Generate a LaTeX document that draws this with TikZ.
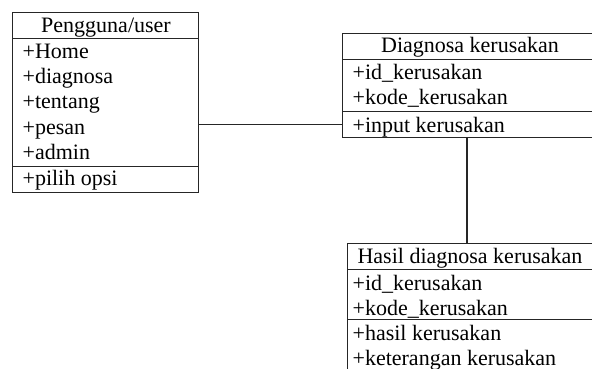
\documentclass[tikz,border=0pt]{standalone}
\usepackage{fontspec}
\setmainfont{Liberation Serif}
\begin{document}
\begin{tikzpicture}[x=1pt,y=-1pt,
  line width=1.2pt,
  compart/.style={draw=black!85, rectangle, inner sep=0pt, anchor=north west,
    minimum width=#1},
  ttl/.style={inner sep=0pt, anchor=base, font=\fontsize{22}{25}\selectfont},
  item/.style={inner sep=0pt, anchor=base west, font=\fontsize{22}{25}\selectfont},
  link/.style={draw=black!85, line width=1.2pt}]
\useasboundingbox (0,0) rectangle (592,369);
\clip (0,0) rectangle (592,369);
\fill[white] (0,0) rectangle (592,369);

% class: Pengguna/user
\node[compart=186pt, minimum height=26pt]  (userT) at (12,12)  {};
\node[compart=186pt, minimum height=128pt] (userA) at (12,38)  {};
\node[compart=186pt, minimum height=26pt]  (userO) at (12,166) {};
\node[ttl]  (userN) at (106,33) {Pengguna/user};
\node[item] (u1) at (22,59)  {+Home};
\node[item] (u2) at (22,84)  {+diagnosa};
\node[item] (u3) at (22,109) {+tentang};
\node[item] (u4) at (22,134) {+pesan};
\node[item] (u5) at (22,159) {+admin};
\node[item] (u6) at (22,185) {+pilih opsi};

% class: Diagnosa kerusakan
\node[compart=252pt, minimum height=26pt] (diagT) at (342,33)  {};
\node[compart=252pt, minimum height=52pt] (diagA) at (342,59)  {};
\node[compart=252pt, minimum height=26pt] (diagO) at (342,111) {};
\node[ttl]  (diagN) at (470,53) {Diagnosa kerusakan};
\node[item] (d1) at (352,80)  {+id\_kerusakan};
\node[item] (d2) at (352,105) {+kode\_kerusakan};
\node[item] (d3) at (352,132) {+input kerusakan};

% class: Hasil diagnosa kerusakan
\node[compart=247pt, minimum height=26pt] (hasT) at (347,243) {};
\node[compart=247pt, minimum height=50pt] (hasA) at (347,269) {};
\node[compart=247pt, minimum height=60pt] (hasO) at (347,319) {};
\node[ttl]  (hasN) at (470,263) {Hasil diagnosa kerusakan};
\node[item] (h1) at (352,290) {+id\_kerusakan};
\node[item] (h2) at (352,315) {+kode\_kerusakan};
\node[item] (h3) at (352,340) {+hasil kerusakan};
\node[item] (h4) at (352,365) {+keterangan kerusakan};

% associations
\coordinate (drop) at (467,0);
\draw[link] (userA.east |- diagO.west) -- (diagO.west);
\draw[link] (diagO.south -| drop) -- (hasT.north -| drop);
\end{tikzpicture}
\end{document}
